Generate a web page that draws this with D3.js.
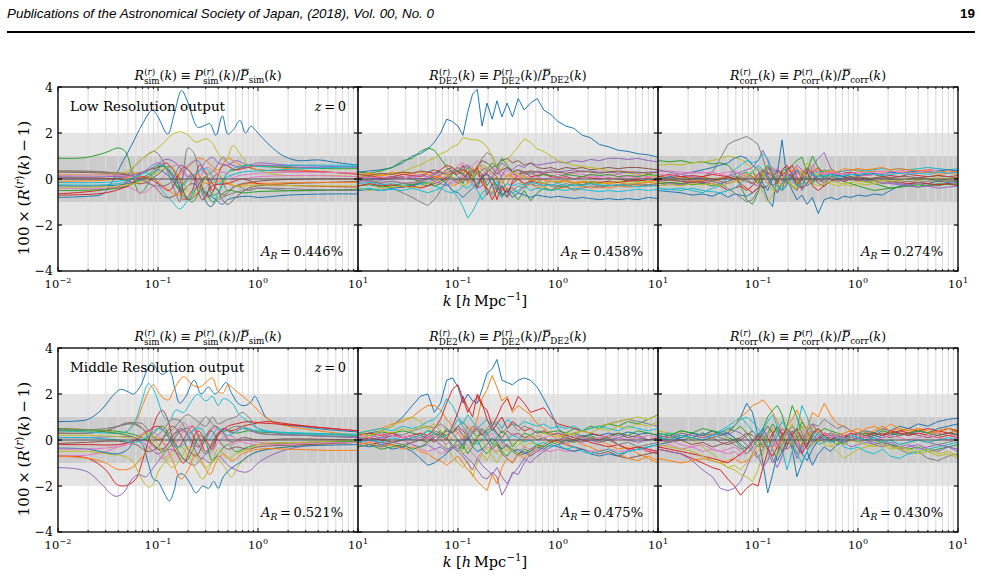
<!DOCTYPE html>
<html><head><meta charset="utf-8">
<script src="https://cdn.jsdelivr.net/npm/d3@7"></script>
<style>body{margin:0;background:#fff}svg{display:block}</style>
</head><body><svg id="c" width="981" height="580"></svg>
<script>
// ---------------- DATA ----------------
const headerText = "Publications of the Astronomical Society of Japan, (2018), Vol. 00, No. 0";
const pageNumber = "19";
const rowLabels = ["Low Resolution output", "Middle Resolution output"];
const titleSubs = ["sim", "DE2", "corr"];
const arValues = ["0.446", "0.458", "0.274", "0.521", "0.475", "0.430"];
const yTicks = [-4, -2, 0, 2, 4];
const xTickExps = [-2, -1, 0, 1];
const kN = [0.01,0.013,0.017,0.022,0.028,0.035,0.042,0.05,0.058,0.067,0.077,0.088,0.1,0.112,0.125,0.14,0.156,0.174,0.195,0.22,0.245,0.275,0.31,0.35,0.4,0.46,0.53,0.62,0.72,0.85,1.0,1.2,1.45,1.75,2.1,2.6,3.2,4.0,5.0,6.3,8.0,10];

// Low resolution, sim (k, value) pairs
const lowSim = [
 [[0.01,-0.8],[0.02,-0.75],[0.028,-0.65],[0.035,-0.1],[0.045,0.8],[0.055,1.5],[0.07,2.4],[0.088,3.0],[0.1,2.7],[0.125,1.95],[0.145,2.8],[0.172,3.85],[0.2,3.3],[0.25,2.25],[0.3,2.35],[0.33,2.4],[0.38,1.9],[0.44,2.75],[0.5,1.95],[0.58,2.2],[0.66,2.55],[0.75,2.0],[0.85,2.3],[0.95,2.1],[1.1,1.8],[1.4,1.35],[1.8,1.0],[2.5,0.8],[4,0.83],[6,0.72],[10,0.6]],
 [[0.01,0.35],[0.03,0.3],[0.05,0.25],[0.08,0.35],[0.1,0.6],[0.12,0.5],[0.15,0.1],[0.2,0.5],[0.25,0.9],[0.3,0.8],[0.4,0.4],[0.5,0.9],[0.6,0.7],[0.8,0.5],[1,0.6],[2,0.45],[5,0.3],[10,0.25]],
 [[0.01,0.9],[0.015,0.9],[0.02,0.95],[0.03,1.15],[0.04,1.35],[0.047,1.2],[0.055,0.3],[0.065,-0.6],[0.075,-0.4],[0.09,0.2],[0.11,0.55],[0.13,0.3],[0.16,-0.4],[0.2,-0.9],[0.25,-0.3],[0.3,0.1],[0.35,-0.7],[0.4,-0.6],[0.5,0.3],[0.6,0.4],[0.8,0.6],[1,0.55],[2,0.5],[5,0.45],[10,0.45]],
 [[0.01,-0.65],[0.02,-0.55],[0.03,-0.45],[0.04,-0.35],[0.06,0.1],[0.08,0.4],[0.1,0.5],[0.12,0.7],[0.15,0.2],[0.18,-0.9],[0.22,-0.5],[0.26,0.6],[0.3,0.3],[0.35,-0.5],[0.45,0.6],[0.6,0.4],[0.8,0.5],[1,0.4],[2,0.35],[5,0.3],[10,0.2]],
 [[0.01,0.1],[0.03,0.1],[0.06,0.2],[0.09,0.5],[0.12,0.85],[0.15,0.7],[0.2,0.1],[0.25,0.3],[0.3,0.75],[0.35,0.95],[0.4,0.7],[0.5,0.6],[0.6,0.8],[0.8,0.6],[1,0.7],[2,0.6],[5,0.55],[10,0.5]],
 [[0.01,0.3],[0.03,0.25],[0.06,0.1],[0.09,-0.3],[0.12,-0.8],[0.15,-0.7],[0.18,-0.2],[0.22,0.2],[0.26,-0.2],[0.32,-0.8],[0.38,-0.4],[0.44,-0.9],[0.5,-1.1],[0.6,-0.8],[0.8,-0.4],[1,-0.3],[2,-0.2],[5,-0.15],[10,-0.1]],
 [[0.01,-0.4],[0.03,-0.4],[0.05,-0.35],[0.07,-0.6],[0.09,-0.3],[0.12,0.2],[0.15,0.6],[0.2,0.4],[0.25,-0.1],[0.3,0.5],[0.4,0.2],[0.5,-0.2],[0.6,0.1],[0.8,0.2],[1,0.25],[3,0.3],[10,0.25]],
 [[0.01,0.35],[0.03,0.3],[0.045,0.1],[0.06,0.6],[0.075,1.0],[0.09,1.2],[0.1,1.1],[0.12,0.5],[0.15,-0.6],[0.165,-1.0],[0.18,0.3],[0.2,1.35],[0.23,1.1],[0.26,0.1],[0.3,-0.7],[0.35,0.0],[0.4,0.2],[0.5,-0.5],[0.6,-0.3],[0.8,-0.5],[1,-0.4],[2,-0.5],[5,-0.5],[10,-0.5]],
 [[0.01,0.2],[0.03,0.2],[0.05,0.35],[0.07,0.9],[0.09,1.2],[0.11,1.5],[0.14,1.95],[0.17,2.05],[0.2,1.9],[0.24,1.6],[0.3,1.75],[0.35,1.55],[0.4,1.1],[0.48,0.8],[0.56,1.45],[0.66,1.1],[0.8,0.6],[1,0.4],[1.5,0.2],[2,0.15],[5,0.15],[10,0.1]],
 [[0.01,-0.25],[0.03,-0.25],[0.05,-0.1],[0.07,0.3],[0.09,0.1],[0.11,-0.5],[0.14,-1.0],[0.165,-1.3],[0.2,-0.9],[0.25,-0.3],[0.3,-1.0],[0.34,-1.2],[0.4,-0.6],[0.5,0.3],[0.6,0.5],[0.8,0.6],[1,0.55],[2,0.6],[5,0.6],[10,0.6]],
 [[0.01,-0.3],[0.03,-0.3],[0.05,-0.2],[0.08,0.1],[0.1,0.4],[0.13,0.1],[0.17,-0.5],[0.22,-0.2],[0.3,-0.6],[0.38,-0.9],[0.44,-1.1],[0.5,-0.9],[0.6,-0.8],[0.8,-0.75],[1,-0.8],[2,-0.7],[5,-0.65],[10,-0.65]],
 [[0.01,-0.1],[0.03,-0.05],[0.06,0.1],[0.09,0.0],[0.12,-0.4],[0.16,-0.7],[0.2,-0.3],[0.25,0.2],[0.3,-0.2],[0.4,-0.1],[0.6,-0.3],[0.8,-0.2],[1,-0.2],[3,-0.15],[10,-0.15]],
 [[0.01,-0.5],[0.03,-0.45],[0.05,-0.3],[0.08,0.2],[0.11,0.6],[0.14,0.2],[0.18,-0.6],[0.22,-1.0],[0.28,-0.4],[0.35,-1.0],[0.4,-0.8],[0.5,-0.5],[0.7,-0.6],[1,-0.55],[3,-0.5],[10,-0.45]],
 [[0.01,-0.7],[0.03,-0.6],[0.05,-0.3],[0.07,0.1],[0.1,-0.2],[0.13,-0.5],[0.18,0.5],[0.22,0.2],[0.28,-0.9],[0.35,-0.3],[0.5,-0.2],[0.7,0.0],[1,-0.2],[3,-0.3],[10,-0.35]],
 [[0.01,0.0],[0.04,0.05],[0.07,0.3],[0.1,0.7],[0.13,0.3],[0.16,-0.2],[0.2,0.6],[0.25,0.8],[0.3,0.2],[0.35,0.3],[0.45,0.95],[0.5,0.7],[0.7,0.5],[1,0.6],[3,0.5],[10,0.55]],
 [[0.01,0.05],[0.04,0.0],[0.07,-0.2],[0.1,0.2],[0.13,0.55],[0.16,0.1],[0.2,-0.9],[0.25,-0.6],[0.3,0.1],[0.38,-0.4],[0.45,-0.7],[0.6,-0.3],[1,-0.1],[3,0.0],[10,0.0]],
 [[0.01,0.15],[0.04,0.15],[0.07,0.0],[0.1,-0.4],[0.13,-0.2],[0.17,0.3],[0.22,0.0],[0.28,-0.5],[0.35,0.1],[0.45,0.3],[0.6,0.0],[1,0.1],[3,0.15],[10,0.1]],
 [[0.01,0.3],[0.05,0.2],[0.08,-0.2],[0.1,-0.3],[0.13,-0.2],[0.17,0.6],[0.2,0.4],[0.28,-0.6],[0.33,-1.2],[0.4,-0.9],[0.5,-0.7],[0.7,-0.5],[1,-0.4],[3,-0.45],[10,-0.5]],
 [[0.01,-0.35],[0.04,-0.3],[0.07,-0.1],[0.1,0.3],[0.13,0.5],[0.17,0.0],[0.22,-0.7],[0.28,-0.3],[0.35,0.4],[0.45,0.0],[0.6,-0.3],[1,-0.25],[3,-0.3],[10,-0.3]],
 [[0.01,-0.15],[0.04,-0.1],[0.07,0.2],[0.1,0.6],[0.13,0.4],[0.17,-0.3],[0.22,0.1],[0.3,0.45],[0.4,-0.2],[0.5,0.1],[0.7,0.3],[1,0.35],[3,0.45],[10,0.55]]
];

// Low resolution, DE2 (values on kN)
const lowDE2 = [
 [0.3,0.35,0.4,0.5,0.7,1.0, 1.1,1.3,1.6,2.0,2.6,2.5, 2.3,1.9,2.9,3.7,3.9,2.3, 3.3,2.6,3.4,2.7,3.3,2.7, 3.5,3.0,3.3,3.5,3.0,2.8, 2.5,2.3,2.2,1.9,1.8,1.5, 1.4,1.25,1.2,1.1,1.05,0.95],
 [0.1,0.2,0.15,0.3,0.2,0.25, 0.1,0.2,0.05,0.15,0.3,0.35, 0.5,0.3,-0.2,0.1,0.6,0.4, 0.2,-0.3,0.1,-0.5,-0.2,0.3, 0.0,-0.3,-0.2,-0.4,-0.3,-0.5, -0.4,-0.35,-0.45,-0.3,-0.4,-0.35, -0.4,-0.3,-0.35,-0.3,-0.25,-0.3],
 [0.3,0.25,0.35,0.5,0.8,0.9, 1.2,1.35,1.25,0.9,0.5,0.3, 0.1,-0.2,0.3,-0.1,0.4,0.2, -0.3,0.1,-0.5,-0.8,-0.4,-0.6, -0.9,-0.5,-0.95,-0.6,-0.4,-0.5, -0.3,-0.35,-0.2,-0.25,-0.15,-0.2, -0.1,-0.15,-0.05,-0.1,0.0,-0.05],
 [0.1,0.15,0.05,0.1,0.2,0.15, 0.1,0.3,0.25,0.4,0.6,0.5, 0.3,0.6,0.2,0.0,-0.4,0.2, -0.7,-0.2,-0.9,-0.3,-0.8,-0.1, 0.2,0.3,0.1,0.15,0.2,0.1, 0.05,0.1,0.0,0.1,0.05,0.0, 0.05,0.0,-0.05,0.0,0.05,0.0],
 [-0.1,0.0,-0.05,0.1,0.05,0.1, 0.2,0.1,0.25,0.3,0.2,0.4, 0.3,0.5,0.6,0.4,0.2,0.0, 0.3,-0.3,-0.5,0.2,0.5,0.4, 0.6,0.5,0.7,0.6,0.65,0.7, 0.75,0.7,0.8,0.75,0.85,0.8, 0.9,0.9,0.85,0.9,0.8,0.75],
 [0.05,0.1,0.0,0.05,0.1,0.0, -0.1,0.0,0.1,0.2,0.4,0.5, 0.3,0.2,-0.1,0.3,0.5,0.8, 0.7,0.5,0.6,0.8,0.9,0.7, 0.8,0.6,0.7,0.5,0.45,0.5, 0.4,0.5,0.45,0.5,0.4,0.45, 0.5,0.45,0.5,0.5,0.45,0.4],
 [-0.15,-0.1,-0.2,-0.1,-0.15,-0.2, -0.1,-0.15,0.0,0.1,0.05,0.2, 0.6,0.7,0.5,0.6,0.8,0.5, 0.4,0.2,0.5,0.3,0.1,0.2, 0.3,0.25,0.3,0.2,0.25,0.15, 0.2,0.15,0.25,0.2,0.15,0.1, 0.15,0.2,0.1,0.15,0.1,0.1],
 [0.0,-0.1,-0.2,-0.4,-0.6,-0.8, -1.0,-1.15,-0.9,-0.5,-0.1,0.3, 0.5,0.4,0.6,0.3,0.5,0.9, 1.15,1.0,0.5,0.0,-0.5,-0.4, -0.6,-0.3,-0.1,0.0,-0.2,-0.3, -0.4,-0.3,-0.5,-0.4,-0.3,-0.35, -0.3,-0.25,-0.3,-0.2,-0.25,-0.2],
 [0.1,0.15,0.2,0.25,0.3,0.5, 0.6,0.8,0.9,1.1,1.2,1.4, 1.5,1.8,1.75,1.7,1.7,1.6, 1.4,1.0,0.5,0.4,0.8,1.1, 1.4,1.75,1.6,1.3,1.2,1.0, 0.8,0.7,0.6,0.55,0.5,0.45, 0.35,0.3,0.25,0.2,0.15,0.1],
 [-0.2,-0.15,-0.25,-0.2,-0.3,-0.25, -0.2,-0.1,-0.3,-0.4,-0.2,-0.5, -0.8,-1.2,-1.7,-1.4,-1.0,-0.6, -0.4,-0.7,-0.2,-0.8,-0.5,-0.6, -0.5,-0.3,-0.5,-0.4,-0.45,-0.5, -0.45,-0.5,-0.4,-0.45,-0.5,-0.55, -0.5,-0.55,-0.5,-0.45,-0.5,-0.45],
 [-0.5,-0.45,-0.5,-0.4,-0.35,-0.3, -0.2,-0.3,-0.1,0.0,-0.2,-0.5, -0.6,-0.8,-0.6,-0.4,-0.2,0.1, 0.2,0.0,-0.3,-0.7,-0.5,-0.8, -0.6,-0.7,-0.8,-0.7,-0.75,-0.8, -0.75,-0.8,-0.85,-0.8,-0.85,-0.9, -0.85,-0.9,-0.85,-0.9,-0.8,-0.85],
 [0.2,0.25,0.15,0.2,0.3,0.25, 0.3,0.2,0.1,0.05,-0.1,-0.3, -0.2,0.1,0.3,0.5,0.2,-0.1, -0.4,-0.6,-0.3,-0.1,0.2,0.1, 0.0,0.1,-0.1,0.0,-0.05,-0.1, -0.1,-0.05,-0.15,-0.1,-0.2,-0.15, -0.2,-0.15,-0.25,-0.2,-0.15,-0.2],
 [-0.3,-0.25,-0.35,-0.3,-0.2,-0.25, -0.15,-0.2,-0.3,-0.2,0.0,0.2, 0.4,0.2,0.5,0.1,-0.3,0.0, 0.4,0.7,0.5,0.9,0.6,0.3, 0.4,0.2,0.3,0.1,0.2,0.15, 0.1,0.2,0.15,0.1,0.2,0.15, 0.2,0.1,0.15,0.1,0.2,0.15],
 [-0.3,-0.2,-0.3,-0.25,-0.35,-0.3, -0.4,-0.3,-0.2,-0.1,0.1,0.3, 0.2,0.4,0.3,0.1,0.5,-0.2, -0.4,-0.9,-0.5,-0.3,-0.6,-0.2, 0.0,-0.2,-0.1,-0.15,-0.2,-0.1, -0.15,-0.1,-0.2,-0.15,-0.1,-0.15, -0.1,-0.15,-0.1,-0.05,-0.1,-0.05],
 [0.0,0.05,-0.05,0.0,0.05,0.1, 0.0,0.05,-0.1,-0.2,-0.3,-0.1, 0.0,0.2,0.1,-0.2,-0.4,-0.3, -0.1,0.1,0.4,0.7,0.5,0.3, 0.1,0.3,0.2,0.35,0.3,0.4, 0.3,0.35,0.4,0.3,0.35,0.3, 0.3,0.25,0.3,0.25,0.3,0.3],
 [0.2,0.15,0.25,0.2,0.3,0.25, 0.35,0.3,0.4,0.3,0.2,0.1, -0.1,0.0,0.2,0.4,0.3,0.1, 0.3,0.5,0.2,0.4,0.5,0.3, 0.4,0.3,0.35,0.3,0.25,0.3, 0.3,0.25,0.3,0.35,0.3,0.25, 0.3,0.35,0.3,0.3,0.25,0.3],
 [0.1,0.05,0.1,0.0,0.05,0.1, 0.15,0.05,0.2,0.1,0.0,-0.2, -0.1,0.1,0.0,-0.3,-0.1,0.2, 0.3,0.0,0.3,0.1,0.4,0.2, 0.1,0.15,0.05,0.1,0.0,0.05, 0.1,0.05,0.0,0.05,0.1,0.05, 0.0,0.05,0.1,0.05,0.0,0.05],
 [-0.1,-0.05,-0.15,-0.1,-0.2,-0.15, -0.1,0.0,0.2,0.3,0.2,0.0, -0.2,-0.1,0.1,0.3,0.2,0.4, 0.5,0.3,0.1,-0.6,-0.8,-0.5, -0.3,-0.4,-0.2,-0.3,-0.2,-0.25, -0.3,-0.2,-0.3,-0.25,-0.2,-0.3, -0.25,-0.3,-0.2,-0.25,-0.3,-0.25],
 [-0.4,-0.5,-0.4,-0.35,-0.3,-0.4, -0.3,-0.2,-0.1,0.0,0.2,0.1, -0.1,-0.3,-0.2,0.1,0.4,0.6, 0.5,0.2,0.0,-0.2,0.1,0.3, 0.2,0.1,0.0,-0.1,-0.2,-0.1, -0.15,-0.1,-0.2,-0.15,-0.1,-0.2, -0.15,-0.1,-0.2,-0.15,-0.1,-0.15],
 [-0.45,-0.4,-0.5,-0.45,-0.5,-0.4, -0.5,-0.6,-0.5,-0.4,-0.55,-0.6, -0.5,-0.3,-0.4,-0.2,-0.5,-0.9, -0.6,-0.3,-0.1,-0.4,-0.2,-0.3, -0.2,-0.25,-0.15,-0.2,-0.3,-0.25, -0.2,-0.3,-0.25,-0.3,-0.2,-0.25, -0.3,-0.25,-0.3,-0.35,-0.3,-0.3]
];

// Low resolution, corr (values on kN)
const lowCorr = [
 [-0.5,-0.55,-0.6,-0.7,-0.65,-0.75, -0.6,-0.8,-0.65,-0.7,-0.75,-0.6, -0.4,-0.3,-0.9,-1.2,0.2,1.7, 0.0,-0.5,-0.9,-0.7,-1.1,-0.8, -1.5,-0.9,-0.8,-0.9,-0.75,-0.8, -0.7,-0.75,-0.65,-0.7,-0.5,-0.3, -0.2,-0.15,-0.2,-0.1,-0.15,-0.1],
 [0.1,0.15,0.1,0.05,0.1,0.0, 0.05,0.1,0.0,-0.1,0.0,0.1, 0.2,0.3,0.2,0.4,0.3,0.2, 0.3,0.4,0.2,0.3,0.35,0.3, 0.4,0.35,0.3,0.3,0.35,0.4, 0.35,0.3,0.35,0.3,0.35,0.3, 0.3,0.25,0.3,0.2,0.25,0.2],
 [0.8,0.75,0.8,0.7,0.75,0.65, 0.7,0.6,0.3,-0.3,-0.9,-1.1, -0.6,0.2,0.5,0.2,-0.3,-0.5, 0.3,0.6,0.8,0.95,0.3,-0.2, 0.1,0.4,0.2,0.3,0.2,0.1, 0.0,-0.1,-0.2,-0.3,-0.4,-0.35, -0.3,-0.35,-0.25,-0.3,-0.2,-0.25],
 [-0.2,-0.15,-0.2,-0.1,-0.15,-0.2, -0.3,-0.5,-0.4,-0.3,-0.5,-0.3, 0.0,0.4,0.2,-0.3,-0.6,-0.2, 0.4,0.6,0.1,-0.4,-0.2,0.3, 0.5,0.2,0.3,0.2,0.25,0.3, 0.2,0.15,0.2,0.1,0.15,0.1, 0.2,0.15,0.1,0.15,0.1,0.05],
 [-0.3,-0.2,-0.25,-0.15,-0.2,-0.1, 0.0,0.1,0.2,0.3,0.4,0.5, 0.8,1.25,0.8,0.2,-0.3,-0.5, -0.2,0.3,0.6,0.4,0.0,0.5, 0.9,1.15,0.5,0.2,0.1,0.0, -0.1,0.0,-0.1,-0.2,-0.15,-0.2, -0.25,-0.2,-0.3,-0.25,-0.2,-0.15],
 [0.1,0.05,0.1,0.0,0.05,0.0, -0.1,-0.2,-0.1,0.0,0.1,0.3, 0.0,-0.4,-0.3,0.1,0.4,0.2, -0.1,-0.3,-0.5,0.0,0.4,0.3, 0.0,-0.2,0.1,0.2,0.1,0.05, 0.1,0.05,0.0,0.05,0.0,-0.05, 0.0,-0.05,0.0,-0.1,-0.05,-0.1],
 [0.3,0.35,0.3,0.25,0.3,0.2, 0.25,0.3,0.35,0.2,0.1,0.0, 0.2,0.1,-0.2,0.3,0.5,0.2, 0.0,-0.2,0.2,0.4,0.3,0.6, 0.3,0.2,0.25,0.3,0.2,0.25, 0.3,0.25,0.3,0.35,0.3,0.35, 0.4,0.35,0.4,0.45,0.4,0.35],
 [-0.05,0.0,-0.1,0.0,0.1,0.3, 0.9,1.5,1.65,1.75,1.85,1.7, 1.5,0.9,0.2,-0.3,-0.6,-0.2, 0.2,0.1,-0.1,0.2,0.1,0.0, -0.1,0.0,0.1,0.05,0.0,-0.05, 0.0,-0.05,0.0,0.05,0.0,-0.05, 0.0,0.05,0.0,-0.05,0.0,0.05],
 [0.6,0.65,0.6,0.7,0.75,0.8, 0.9,1.0,0.95,0.85,0.7,0.4, 0.0,-0.6,-1.0,-0.7,-0.2,0.3, 0.1,-0.3,-0.4,0.2,0.7,0.5, 0.2,0.0,-0.2,-0.3,-0.25,-0.3, -0.2,-0.25,-0.2,-0.15,-0.1,-0.15, -0.1,-0.15,-0.1,-0.05,-0.1,-0.05],
 [-0.4,-0.45,-0.4,-0.5,-0.6,-0.4, -0.3,0.1,0.4,0.6,0.8,0.7, 0.8,1.1,0.9,0.3,-0.2,-0.5, -0.3,0.2,0.4,0.1,0.3,0.2, 0.3,0.35,0.4,0.3,0.35,0.4, 0.4,0.35,0.4,0.45,0.4,0.45, 0.4,0.45,0.5,0.45,0.4,0.45],
 [0.0,0.1,0.2,0.3,0.4,0.5, 0.6,0.7,0.9,1.0,0.9,0.6, 0.4,-0.2,-0.5,0.0,0.4,0.2, -0.2,0.1,0.4,0.0,-0.3,-0.1, 0.2,0.1,0.2,0.15,0.1,0.2, 0.15,0.2,0.25,0.2,0.3,0.25, 0.3,0.35,0.3,0.35,0.4,0.35],
 [0.0,-0.05,0.0,-0.1,-0.05,-0.1, 0.0,0.05,0.0,0.1,0.2,0.1, -0.1,0.2,0.5,0.3,0.0,-0.3, -0.1,0.3,0.5,0.2,-0.2,0.0, 0.2,0.3,0.4,0.3,0.45,0.4, 0.45,0.4,0.45,0.5,0.4,0.45, 0.4,0.35,0.4,0.3,0.35,0.3],
 [-0.2,-0.15,-0.2,-0.25,-0.2,-0.3, -0.2,-0.1,0.0,0.2,0.3,0.1, -0.2,0.3,0.6,0.2,-0.1,0.3, 0.5,0.2,-0.3,-0.4,0.3,1.0, 0.5,0.0,0.2,0.0,-0.1,-0.2, -0.3,-0.4,-0.5,-0.45,-0.4,-0.35, -0.3,-0.25,-0.3,-0.2,-0.25,-0.2],
 [0.1,0.2,0.1,0.15,0.1,0.2, 0.15,0.1,0.0,-0.2,-0.4,-0.6, -0.4,0.0,0.3,0.1,-0.2,0.4, 0.6,0.2,-0.2,0.0,0.3,-0.3, -0.5,-0.3,-0.1,0.0,-0.1,0.0, -0.05,0.0,-0.1,-0.05,-0.1,-0.15, -0.2,-0.15,-0.2,-0.25,-0.2,-0.3],
 [0.4,0.3,0.2,0.1,0.0,-0.1, -0.2,-0.1,0.0,0.1,0.0,-0.2, -0.3,0.0,0.4,0.5,0.2,-0.1, 0.0,0.3,0.0,-0.5,-0.2,0.2, 0.0,-0.1,0.0,-0.1,-0.05,0.0, 0.0,-0.05,-0.1,-0.15,-0.2,-0.25, -0.3,-0.35,-0.3,-0.4,-0.35,-0.3],
 [-0.1,-0.05,-0.1,-0.15,-0.1,-0.05, 0.0,0.05,0.1,0.0,-0.1,-0.2, 0.2,0.4,0.0,-0.3,-0.1,0.2, 0.3,0.1,-0.3,0.2,0.5,0.2, -0.2,-0.3,-0.1,0.0,0.05,0.1, 0.05,0.0,0.05,0.1,0.05,0.1, 0.1,0.05,0.1,0.15,0.1,0.15],
 [0.2,0.15,0.2,0.3,0.25,0.3, 0.2,0.15,0.3,0.2,0.1,0.3, 0.5,0.3,0.1,0.4,0.2,0.0, 0.3,0.5,0.3,0.1,0.2,0.4, 0.3,0.25,0.3,0.2,0.25,0.2, 0.2,0.15,0.2,0.25,0.2,0.3, 0.25,0.3,0.35,0.3,0.25,0.3],
 [0.0,0.05,0.0,-0.05,0.0,-0.1, -0.2,-0.4,-0.6,-0.8,-1.0,-0.9, -0.5,0.0,0.3,0.1,-0.2,0.0, 0.2,0.0,-0.2,0.1,0.0,-0.1, 0.0,0.1,0.0,-0.05,0.0,0.05, 0.0,-0.05,-0.1,-0.05,-0.1,-0.15, -0.1,-0.15,-0.1,-0.05,-0.1,-0.05],
 [-0.3,-0.25,-0.3,-0.2,-0.25,-0.2, -0.3,-0.2,-0.1,0.0,0.1,0.3, 0.5,0.2,-0.2,-0.5,-0.3,0.1, 0.0,-0.4,-0.2,0.3,0.1,-0.2, -0.3,-0.2,-0.1,-0.15,-0.2,-0.15, -0.1,-0.15,-0.1,-0.05,-0.1,-0.05, 0.0,-0.05,0.0,0.05,0.0,0.05],
 [-0.5,-0.45,-0.5,-0.4,-0.5,-0.55, -0.6,-0.5,-0.4,-0.2,0.0,0.3, 0.6,0.4,0.1,-0.3,-0.5,-0.2, 0.1,-0.1,-0.3,-0.2,0.0,0.2, 0.1,0.15,0.2,0.1,0.15,0.2, 0.2,0.25,0.2,0.15,0.2,0.25, 0.2,0.25,0.2,0.3,0.25,0.3]
];

// Middle resolution, sim (k, value) pairs
const midSim = [
 [[0.01,0.8],[0.015,0.82],[0.02,0.9],[0.027,1.3],[0.035,1.9],[0.042,2.2],[0.05,2.1],[0.057,2.0],[0.066,2.3],[0.077,3.0],[0.087,3.35],[0.1,3.0],[0.11,2.85],[0.13,3.0],[0.148,2.2],[0.165,1.6],[0.19,1.9],[0.23,2.6],[0.27,2.0],[0.32,2.3],[0.37,2.0],[0.42,2.2],[0.48,2.5],[0.55,2.0],[0.65,1.55],[0.75,1.5],[0.85,1.65],[0.93,1.9],[1.05,1.5],[1.2,1.0],[1.6,0.7],[2.5,0.6],[5,0.45],[10,0.35]],
 [[0.01,0.5],[0.02,0.45],[0.03,0.4],[0.045,0.3],[0.06,0.8],[0.07,1.5],[0.08,2.1],[0.09,2.4],[0.1,2.1],[0.115,1.8],[0.128,1.75],[0.145,2.2],[0.18,2.75],[0.22,2.4],[0.26,2.3],[0.3,2.5],[0.35,2.7],[0.4,2.1],[0.45,2.05],[0.5,2.4],[0.58,2.2],[0.66,2.0],[0.75,1.8],[0.9,1.5],[1.1,1.1],[1.4,0.8],[2,0.6],[4,0.4],[10,0.2]],
 [[0.01,0.5],[0.02,0.45],[0.035,0.4],[0.05,0.3],[0.07,0.1],[0.09,-0.2],[0.11,-0.5],[0.13,-0.3],[0.16,0.3],[0.2,0.5],[0.25,-0.2],[0.3,-0.6],[0.35,-0.3],[0.4,0.3],[0.5,0.4],[0.6,0.3],[0.8,0.4],[1,0.35],[2,0.3],[5,0.25],[10,0.2]],
 [[0.01,-0.7],[0.02,-0.8],[0.03,-1.3],[0.038,-1.9],[0.043,-2.0],[0.05,-1.95],[0.06,-1.7],[0.07,-0.9],[0.085,0.3],[0.1,1.1],[0.11,1.3],[0.125,0.9],[0.14,0.1],[0.16,-0.3],[0.19,0.2],[0.22,0.6],[0.26,0.1],[0.3,-0.5],[0.36,-0.1],[0.45,0.5],[0.55,0.4],[0.7,0.6],[0.9,0.7],[1.2,0.8],[2,0.7],[4,0.55],[10,0.4]],
 [[0.01,-1.2],[0.015,-1.25],[0.02,-1.4],[0.027,-1.9],[0.033,-2.3],[0.038,-2.45],[0.045,-2.3],[0.055,-1.7],[0.065,-1.5],[0.075,-1.6],[0.09,-1.2],[0.11,-0.7],[0.13,-0.4],[0.16,-0.6],[0.19,-0.9],[0.23,-1.1],[0.28,-0.8],[0.33,-1.0],[0.4,-0.7],[0.5,-1.1],[0.6,-1.3],[0.75,-1.4],[0.85,-1.3],[1,-1.0],[1.3,-0.7],[2,-0.4],[4,-0.2],[10,-0.1]],
 [[0.01,0.3],[0.02,0.3],[0.03,0.4],[0.04,0.6],[0.05,0.75],[0.06,0.7],[0.07,0.5],[0.085,-0.1],[0.1,-0.4],[0.12,-0.3],[0.14,0.2],[0.17,0.5],[0.2,0.2],[0.25,-0.3],[0.3,0.2],[0.37,0.6],[0.45,0.3],[0.55,-0.1],[0.7,0.1],[1,0.0],[2,0.05],[10,0.0]],
 [[0.01,-0.7],[0.02,-0.65],[0.03,-0.5],[0.04,-0.3],[0.05,-0.1],[0.065,0.2],[0.08,0.4],[0.1,0.2],[0.12,-0.2],[0.15,0.2],[0.18,0.75],[0.21,0.4],[0.25,-0.3],[0.3,0.0],[0.36,0.5],[0.45,0.2],[0.55,-0.2],[0.7,0.0],[1,-0.1],[2,-0.15],[10,-0.1]],
 [[0.01,0.3],[0.02,0.3],[0.03,0.4],[0.04,0.6],[0.05,0.7],[0.06,0.75],[0.07,0.7],[0.085,0.3],[0.1,0.0],[0.12,0.2],[0.15,0.6],[0.18,1.0],[0.2,1.1],[0.25,0.8],[0.3,0.6],[0.35,1.0],[0.4,0.7],[0.5,0.9],[0.6,1.0],[0.7,1.2],[0.8,1.0],[1,0.5],[1.5,0.3],[3,0.2],[10,0.1]],
 [[0.01,-0.5],[0.02,-0.5],[0.03,-0.6],[0.045,-0.7],[0.055,-0.9],[0.065,-1.5],[0.075,-1.95],[0.082,-2.05],[0.09,-1.9],[0.1,-1.4],[0.12,-0.9],[0.14,-0.6],[0.17,-0.3],[0.2,-0.7],[0.24,-1.3],[0.28,-1.7],[0.32,-1.3],[0.38,-0.8],[0.45,-1.1],[0.54,-1.6],[0.62,-1.2],[0.75,-0.8],[1,-0.5],[2,-0.3],[10,-0.1]],
 [[0.01,0.4],[0.02,0.35],[0.03,0.3],[0.04,0.3],[0.05,0.4],[0.06,0.9],[0.07,1.8],[0.08,2.45],[0.09,2.2],[0.1,1.7],[0.115,1.0],[0.13,0.8],[0.15,1.3],[0.18,1.2],[0.21,1.6],[0.25,2.0],[0.3,1.7],[0.35,1.9],[0.4,1.5],[0.45,1.8],[0.55,1.6],[0.65,1.1],[0.8,0.8],[1,0.5],[2,0.3],[10,0.2]],
 [[0.01,-0.35],[0.02,-0.4],[0.03,-0.55],[0.04,-0.6],[0.05,-0.4],[0.06,0.0],[0.07,-0.2],[0.08,-1.0],[0.09,-1.7],[0.1,-1.8],[0.115,-2.3],[0.13,-2.65],[0.145,-2.2],[0.16,-1.5],[0.18,-1.5],[0.21,-1.9],[0.24,-2.3],[0.28,-2.0],[0.32,-2.1],[0.36,-1.8],[0.4,-2.1],[0.45,-1.6],[0.55,-1.2],[0.65,-1.0],[0.8,-0.7],[1,-0.5],[2,-0.3],[10,-0.2]],
 [[0.01,-0.7],[0.02,-0.8],[0.03,-1.0],[0.038,-1.25],[0.045,-1.3],[0.055,-1.2],[0.065,-0.9],[0.08,-0.4],[0.1,0.1],[0.12,-0.3],[0.14,-0.9],[0.17,-1.7],[0.2,-1.3],[0.24,-0.6],[0.28,-1.0],[0.33,-1.5],[0.38,-1.0],[0.45,-0.6],[0.55,-0.9],[0.7,-0.6],[1,-0.4],[2,-0.4],[5,-0.45],[10,-0.45]],
 [[0.01,0.4],[0.02,0.4],[0.03,0.35],[0.05,0.2],[0.07,0.0],[0.09,0.3],[0.11,0.6],[0.13,0.2],[0.16,-0.5],[0.19,-0.9],[0.22,-0.5],[0.26,0.2],[0.3,-0.1],[0.35,-0.9],[0.4,-0.6],[0.5,-0.2],[0.6,-0.5],[0.8,-0.3],[1,-0.2],[3,-0.1],[10,-0.05]],
 [[0.01,-0.2],[0.02,-0.2],[0.04,-0.2],[0.06,0.0],[0.08,0.4],[0.1,0.6],[0.12,0.3],[0.15,-0.5],[0.18,-1.0],[0.21,-0.4],[0.25,0.4],[0.3,0.0],[0.35,-0.4],[0.4,0.2],[0.5,0.6],[0.6,0.7],[0.8,0.8],[1,0.75],[1.5,0.7],[3,0.6],[10,0.4]],
 [[0.01,0.1],[0.02,0.1],[0.04,0.15],[0.06,0.1],[0.08,-0.3],[0.1,-0.6],[0.12,-0.3],[0.15,0.3],[0.18,0.4],[0.22,-0.2],[0.27,-0.8],[0.32,-0.4],[0.38,0.2],[0.45,0.5],[0.55,0.3],[0.7,0.5],[1,0.3],[3,0.2],[10,0.1]],
 [[0.01,-0.15],[0.02,-0.1],[0.04,-0.05],[0.06,-0.2],[0.08,-0.5],[0.1,-0.3],[0.12,0.3],[0.14,0.6],[0.17,0.2],[0.2,-0.4],[0.24,-0.7],[0.28,-0.2],[0.34,0.4],[0.4,0.0],[0.5,-0.4],[0.6,-0.3],[0.8,-0.4],[1,-0.3],[3,-0.2],[10,-0.1]],
 [[0.01,-0.4],[0.03,-0.35],[0.05,-0.2],[0.07,0.0],[0.09,-0.3],[0.11,-0.8],[0.13,-0.6],[0.16,0.0],[0.2,0.6],[0.24,0.3],[0.28,-0.4],[0.33,-0.6],[0.4,-0.1],[0.5,0.2],[0.7,-0.1],[1,-0.2],[3,-0.15],[10,-0.1]],
 [[0.01,0.45],[0.02,0.45],[0.03,0.5],[0.04,0.6],[0.05,0.7],[0.06,0.65],[0.075,0.4],[0.09,0.1],[0.11,0.4],[0.14,0.9],[0.17,0.8],[0.2,0.3],[0.25,0.6],[0.3,1.0],[0.35,0.7],[0.45,0.4],[0.6,0.6],[0.8,0.5],[1,0.3],[3,0.2],[10,0.15]],
 [[0.01,0.2],[0.02,0.2],[0.04,0.15],[0.06,0.1],[0.08,0.3],[0.1,-0.2],[0.12,-0.9],[0.14,-1.2],[0.17,-0.8],[0.2,-0.3],[0.25,-0.8],[0.3,-1.2],[0.35,-0.9],[0.4,-0.4],[0.5,-0.8],[0.6,-0.6],[0.8,-0.4],[1,-0.2],[3,-0.1],[10,0.0]],
 [[0.01,0.1],[0.02,0.1],[0.04,0.0],[0.06,-0.1],[0.08,0.2],[0.1,0.5],[0.12,0.3],[0.15,-0.3],[0.18,-0.2],[0.22,0.4],[0.27,0.5],[0.32,0.0],[0.4,0.5],[0.5,0.2],[0.7,0.5],[1,0.4],[3,0.3],[10,0.25]]
];

// Middle resolution, DE2 (values on kN)
const midDE2 = [
 [0.2,0.3,0.4,0.6,1.0,1.5, 1.9,2.0,1.2,1.6,2.6,2.7, 2.3,1.6,2.0,1.7,1.6,2.2, 2.9,3.1,3.5,2.6,2.5,2.4, 2.6,2.7,2.6,2.3,1.8,1.2, 0.5,0.2,0.3,0.15,0.25,0.2, 0.3,0.2,0.35,0.25,0.3,0.2],
 [0.3,0.4,0.5,0.7,0.8,1.0, 1.3,1.5,1.5,1.3,0.9,0.6, 0.3,0.0,0.6,0.4,0.9,1.8, 2.2,2.8,2.3,1.7,1.9,1.2, 1.5,1.3,1.1,0.7,0.5,0.3, 0.2,0.1,0.0,-0.1,0.1,0.0, -0.2,-0.4,-0.3,-0.6,-0.8,-1.0],
 [0.3,0.2,0.35,0.3,0.4,0.3, 0.2,0.4,0.3,0.1,0.5,0.3, 0.0,-0.4,0.2,0.4,0.1,0.5, 0.3,-0.2,0.1,0.4,0.2,-0.3, 0.0,0.3,0.2,0.4,0.3,0.35, 0.4,0.3,0.5,0.4,0.6,0.5, 0.7,0.6,0.8,0.7,0.9,1.1],
 [0.0,0.1,0.0,0.2,0.1,0.2, 0.3,0.2,0.5,0.9,1.6,2.2, 2.4,1.8,1.2,1.6,1.9,1.5, 1.3,0.6,1.0,1.5,1.8,1.3, 1.9,1.6,1.2,1.3,1.4,1.0, 0.7,0.6,0.5,0.4,0.3,0.2, 0.1,-0.2,-0.4,-0.3,-0.5,-0.6],
 [-0.1,0.0,-0.2,-0.1,0.0,-0.2, -0.3,-0.2,-0.4,-0.3,-0.5,-0.4, -0.2,-0.6,-0.8,-1.0,-1.3,-1.6, -1.7,-1.4,-1.6,-2.4,-2.0,-1.4, -1.5,-1.0,-0.6,-0.4,-0.2,0.0, -0.1,0.0,-0.1,0.1,0.0,-0.1, 0.0,0.1,0.0,-0.1,0.0,0.1],
 [-0.1,-0.2,-0.1,-0.2,-0.3,-0.1, 0.0,-0.1,0.1,0.3,0.2,0.4, 0.6,0.4,0.2,-0.2,0.1,0.3, 0.0,-0.4,-0.2,-0.6,-0.8,-1.0, -0.6,-0.5,-0.7,-0.5,-0.3,-0.1, 0.0,-0.2,-0.3,-0.4,-0.5,-0.6, -0.5,-0.7,-0.8,-0.7,-0.6,-0.5],
 [0.0,-0.1,0.1,-0.1,0.0,-0.2, -0.4,-0.5,-0.4,-0.6,-0.5,-0.3, -0.2,0.1,-0.3,-0.6,-0.8,-0.5, -0.3,-0.4,-0.5,-0.3,-0.2,-0.4, -0.5,-0.3,-0.4,-0.5,-0.45,-0.5, -0.4,-0.5,-0.45,-0.4,-0.5,-0.45, -0.4,-0.5,-0.45,-0.4,-0.45,-0.5],
 [0.1,0.2,0.1,0.3,0.2,0.4, 0.5,0.6,0.5,0.7,0.5,0.3, 0.6,0.8,0.5,0.3,0.6,0.4, 0.2,0.5,0.3,0.0,-0.3,-0.5, -0.7,-0.6,-0.4,-0.2,-0.3,-0.1, 0.0,0.2,0.3,0.4,0.5,0.6, 0.7,0.8,0.9,0.8,0.7,0.6],
 [0.0,0.2,0.4,0.6,0.9,1.0, 0.8,0.5,0.3,0.1,-0.3,-0.7, -1.0,-1.2,-0.9,-1.6,-1.0,-0.6, -0.9,-0.4,-0.6,-0.1,-0.5,-0.2, 0.0,-0.3,-0.1,-0.2,-0.3,-0.1, 0.0,0.2,0.3,0.4,0.5,0.6, 0.7,0.8,0.9,1.0,0.9,1.1],
 [0.3,0.4,0.5,0.4,0.6,0.5, 0.6,0.8,0.9,1.2,1.8,1.5, 1.0,0.7,1.1,0.8,0.5,0.7, 0.9,0.6,0.8,0.5,0.9,0.7, 0.6,0.8,0.7,0.6,0.7,0.5, 0.6,0.5,0.6,0.4,0.5,0.6, 0.5,0.4,0.6,0.5,0.4,0.5],
 [-0.2,-0.3,-0.2,-0.4,-0.3,-0.5, -0.8,-1.1,-1.0,-0.8,-0.6,-0.3, 0.0,-0.2,0.1,-0.3,-0.5,-0.4, -0.2,0.1,-0.1,-0.4,-0.2,-0.5, -0.4,-0.6,-0.5,-0.3,-0.4,-0.2, -0.3,-0.4,-0.5,-0.4,-0.6,-0.7, -0.6,-0.7,-0.5,-0.4,-0.3,-0.2],
 [-0.2,-0.1,-0.3,-0.2,-0.4,-0.3, -0.5,-0.6,-0.8,-0.9,-1.1,-0.9, -0.7,-1.0,-1.3,-1.5,-1.8,-2.0, -2.2,-1.5,-1.9,-1.2,-0.8,-1.0, -0.6,-0.8,-0.5,-0.3,-0.2,0.0, -0.1,-0.2,0.0,-0.2,-0.3,-0.5, -0.4,-0.6,-0.8,-0.9,-0.7,-0.9],
 [-0.3,-0.2,-0.4,-0.3,-0.2,-0.4, -0.3,-0.1,0.2,0.4,0.1,-0.3, -0.5,-0.2,-0.6,-0.3,0.0,-0.4, -0.6,-0.3,-0.1,-0.5,-0.7,-0.4, -0.6,-0.4,-0.5,-0.2,-0.3,-0.1, -0.2,0.0,-0.1,0.1,0.2,0.0, 0.1,0.3,0.2,0.4,0.3,0.2],
 [0.2,0.3,0.2,0.3,0.1,0.2, 0.0,0.1,-0.1,0.2,0.0,0.6, 1.2,1.9,1.4,1.0,2.0,1.6, 0.9,0.4,0.7,1.0,0.5,0.8, 0.6,0.4,0.5,0.3,0.4,0.2, 0.3,0.2,0.1,0.0,-0.1,-0.2, -0.3,-0.2,-0.4,-0.3,-0.4,-0.5],
 [0.1,0.0,0.1,0.2,0.1,0.0, 0.1,0.2,0.0,-0.2,-0.4,-0.3, -0.5,-0.7,-1.0,-1.3,-0.8,-1.1, -1.3,-1.5,-1.2,-1.6,-1.9,-1.5, -1.2,-0.8,-1.0,-0.7,-0.5,-0.3, -0.2,-0.1,0.0,-0.1,0.0,0.1, 0.0,0.1,0.2,0.1,0.0,0.1],
 [0.0,0.1,0.0,-0.1,0.0,0.1, 0.2,0.1,0.3,0.2,0.4,0.3, 0.5,0.2,0.0,0.3,0.5,0.2, 0.4,0.6,0.3,0.1,0.4,0.2, 0.3,0.1,0.2,0.0,0.1,-0.1, 0.0,0.1,0.0,0.2,0.1,0.0, 0.2,0.3,0.1,0.2,0.0,0.1],
 [0.2,0.1,0.3,0.2,0.1,0.2, 0.0,0.1,0.2,0.0,-0.2,0.1, 0.3,0.5,0.2,0.4,0.6,0.3, 0.1,0.3,0.0,-0.2,0.1,0.3, 0.2,0.0,0.1,0.2,0.1,0.2, 0.0,0.1,0.2,0.1,0.0,0.1, 0.2,0.1,0.0,0.1,0.2,0.1],
 [-0.3,-0.2,-0.3,-0.1,-0.2,-0.1, 0.0,0.2,0.4,0.3,0.1,-0.2, -0.4,-0.1,0.3,0.6,0.4,0.2, 0.5,0.8,0.6,0.3,0.5,0.7, 0.4,0.6,0.5,0.3,0.4,0.2, 0.3,0.1,0.2,0.0,0.1,-0.1, 0.0,-0.2,-0.1,-0.3,-0.2,-0.1],
 [0.3,0.2,0.4,0.3,0.5,0.4, 0.6,0.5,0.7,0.4,0.2,0.0, -0.3,-0.6,-0.4,-0.1,0.2,0.0, -0.4,-0.7,-1.0,-0.6,-0.3,-0.5, -0.2,0.0,0.2,0.1,0.3,0.2, 0.1,0.3,0.2,0.4,0.3,0.5, 0.4,0.6,0.5,0.7,0.6,0.8],
 [-0.1,0.0,-0.1,0.1,0.0,0.1, 0.2,0.4,0.3,0.1,0.2,0.5, 0.9,0.6,0.3,0.1,-0.2,0.0, 0.3,0.5,0.2,-0.1,0.0,0.2, 0.1,-0.1,0.0,-0.2,-0.1,-0.3, -0.2,-0.4,-0.3,-0.5,-0.6,-0.5, -0.4,-0.6,-0.5,-0.4,-0.3,-0.2]
];

// Middle resolution, corr (values on kN)
const midCorr = [
 [0.1,0.2,0.0,0.1,0.3,0.2, 0.4,0.3,0.6,1.0,1.6,1.2, 0.2,-1.0,-2.3,-1.5,-0.6,0.2, 0.5,-0.4,-1.6,-1.0,-0.5,-1.1, -0.6,-0.3,-0.5,-0.2,0.0,0.2, 0.3,0.4,0.3,0.5,0.4,0.6, 0.5,0.7,0.6,0.8,0.9,0.95],
 [0.2,0.1,0.3,0.2,0.1,0.3, 0.2,0.4,0.6,1.0,1.2,1.5, 1.6,1.75,1.5,1.2,0.8,0.4, 0.6,0.9,1.3,0.8,0.5,1.2, 1.0,1.6,1.1,0.7,0.6,0.4, 0.5,0.3,0.4,0.6,0.4,0.5, 0.3,0.5,0.4,0.3,0.5,0.4],
 [0.3,0.2,0.4,0.3,0.2,0.4, 0.3,0.1,0.0,-0.3,-0.6,-0.3, 0.0,0.5,1.0,1.3,1.5,1.1, 0.3,-0.3,0.2,0.8,0.4,0.0, 0.3,0.5,0.4,0.3,0.2,0.1, 0.2,0.1,0.0,-0.1,-0.2,-0.3, -0.4,-0.3,-0.5,-0.4,-0.3,-0.2],
 [-0.4,-0.5,-0.6,-0.8,-1.0,-1.2, -1.3,-1.7,-2.0,-2.4,-2.1,-1.9, -2.0,-1.2,-0.5,0.2,0.6,0.3, -0.2,0.3,0.5,0.0,-0.3,0.2, 0.0,0.3,0.2,0.1,0.2,0.0, 0.1,0.2,0.3,0.2,0.3,0.4, 0.3,0.4,0.5,0.4,0.3,0.4],
 [-0.4,-0.5,-0.6,-0.9,-1.3,-1.6, -2.1,-2.2,-2.1,-1.8,-1.2,-0.6, -0.2,0.3,-0.3,-0.8,-1.2,-0.7, 0.0,0.3,-0.2,-0.5,0.1,0.4, 0.2,-0.1,0.0,-0.2,-0.1,-0.3, -0.2,-0.1,-0.2,-0.3,-0.2,-0.4, -0.3,-0.2,-0.4,-0.5,-0.3,-0.4],
 [0.1,0.0,0.2,0.1,0.0,0.1, -0.1,-0.2,-0.1,0.0,0.2,0.4, 0.1,-0.3,-0.1,0.3,0.6,0.2, -0.4,-0.2,0.3,0.6,0.2,-0.1, 0.1,0.2,0.0,0.1,0.2,0.1, 0.2,0.3,0.2,0.3,0.2,0.4, 0.5,0.4,0.3,0.4,0.5,0.4],
 [-0.3,-0.2,-0.4,-0.3,-0.5,-0.4, -0.5,-0.6,-0.5,-0.7,-0.4,-0.2, 0.1,0.3,0.0,-0.3,-0.1,0.2, 0.4,0.1,-0.2,0.2,0.4,0.2, 0.0,0.2,0.3,0.1,0.2,0.3, 0.2,0.3,0.2,0.1,0.2,0.3, 0.2,0.3,0.2,0.3,0.2,0.25],
 [0.1,0.2,0.1,0.3,0.2,0.1, 0.2,0.3,0.1,0.0,-0.2,-0.5, -0.8,-0.4,0.2,0.5,0.3,-0.1, 0.3,0.6,0.3,0.0,0.4,0.7, 0.6,0.9,0.7,0.5,0.6,0.4, 0.3,0.2,0.1,0.0,-0.2,-0.4, -0.6,-0.5,-0.8,-0.9,-0.7,-0.6],
 [0.4,0.3,0.2,0.0,-0.3,-0.6, -0.9,-1.2,-1.3,-1.5,-1.6,-1.8, -1.3,-0.6,0.2,0.5,0.3,-0.1, 0.4,0.7,0.3,-0.2,0.1,0.5, 0.3,0.0,-0.2,-0.5,-0.8,-0.6, -0.4,-0.3,-0.2,-0.1,-0.3,-0.4, -0.5,-0.6,-0.5,-0.7,-0.6,-0.8],
 [0.2,0.3,0.2,0.1,0.3,0.2, 0.4,0.6,0.8,1.0,0.7,0.4, 0.1,0.4,0.8,1.1,0.6,-0.4, -1.3,-0.5,0.4,1.5,1.0,0.3, -0.2,-0.1,0.2,0.0,-0.3,-0.4, -0.3,-0.5,-0.6,-0.4,-0.7,-0.8, -0.6,-0.5,-0.4,-0.3,-0.2,-0.1],
 [-0.2,-0.1,0.1,0.3,0.2,0.4, 0.2,0.3,0.1,-0.2,-0.4,-0.1, 0.2,0.5,0.1,-0.4,-0.9,-0.5, 0.0,0.4,0.2,-0.6,-0.9,-0.4, 0.0,0.2,-0.1,0.0,-0.2,0.0, 0.1,0.0,0.2,0.1,0.2,0.3, 0.2,0.4,0.3,0.5,0.6,0.7],
 [-0.8,-0.9,-1.0,-0.9,-0.8,-0.9, -1.0,-0.9,-0.8,-1.0,-0.9,-0.7, -0.5,-0.2,0.1,-0.1,-0.4,0.0, 0.5,0.3,0.0,-0.3,0.2,0.6, 0.4,0.1,0.3,0.2,0.3,0.4, 0.3,0.5,0.6,0.4,0.7,0.5, 0.4,0.5,0.3,0.4,0.5,0.3],
 [0.1,0.2,0.4,0.3,0.5,0.4, 0.3,0.5,0.4,0.6,0.3,0.0, -0.3,-0.1,0.3,0.7,0.4,0.0, 0.6,1.5,1.0,0.3,-0.2,0.2, 0.5,0.2,0.0,-0.2,-0.1,0.1, 0.2,0.3,0.2,0.4,0.3,0.2, 0.3,0.4,0.3,0.2,0.3,0.25],
 [-0.3,-0.4,-0.5,-0.6,-0.7,-0.8, -0.9,-1.0,-0.8,-0.6,-0.4,-0.1, 0.2,0.0,-0.4,-0.7,-0.3,0.2, 0.5,0.2,-0.3,-0.6,-0.2,0.3, 0.5,0.2,0.0,0.2,0.1,0.3, 0.2,0.1,0.3,0.2,0.4,0.3, 0.2,0.3,0.2,0.1,0.2,0.1],
 [0.2,0.1,0.3,0.2,0.1,0.2, 0.3,0.2,0.4,0.3,0.1,-0.3, -0.7,-1.2,-0.9,-0.3,0.2,0.5, 0.3,-0.2,-0.8,-0.3,0.4,0.7, 0.3,0.0,0.2,0.1,-0.1,0.0, 0.1,0.0,-0.1,-0.2,-0.1,-0.3, -0.2,-0.4,-0.3,-0.2,-0.3,-0.5],
 [0.0,-0.1,0.0,-0.2,-0.1,-0.3, -0.2,-0.1,0.0,0.1,0.3,0.2, 0.0,0.3,0.6,0.3,-0.2,-0.5, -0.3,0.2,0.5,0.1,-0.4,-0.2, 0.1,0.3,0.1,0.0,0.1,0.2, 0.1,0.2,0.3,0.2,0.1,0.2, 0.3,0.2,0.1,0.2,0.3,0.2],
 [-0.1,0.0,-0.2,-0.3,-0.2,-0.4, -0.5,-0.4,-0.3,-0.5,-0.6,-0.4, -0.2,0.1,0.3,0.0,-0.3,0.1, 0.3,0.0,0.2,0.4,0.1,-0.1, 0.2,0.3,0.1,0.2,0.0,0.1, 0.2,0.1,0.0,0.1,0.2,0.1, 0.0,0.1,0.2,0.1,0.0,0.1],
 [0.0,0.1,0.2,0.1,0.3,0.2, 0.1,0.0,-0.2,-0.4,-0.3,0.0, 0.3,0.1,-0.5,-1.0,-0.6,-0.2, 0.1,-0.3,-0.6,-0.2,0.3,0.1, -0.1,0.1,0.3,0.2,0.1,0.0, -0.1,0.0,-0.2,-0.1,0.0,-0.2, -0.1,0.0,-0.1,-0.2,-0.1,0.0],
 [-0.2,-0.3,-0.4,-0.5,-0.7,-0.9, -1.0,-1.2,-1.1,-1.3,-1.0,-0.6, -0.2,0.2,0.0,-0.4,-0.7,-0.3, 0.1,-0.2,0.3,0.6,0.2,-0.2, 0.0,-0.2,-0.3,-0.1,-0.2,0.0, -0.1,-0.2,-0.3,-0.2,-0.4,-0.3, -0.4,-0.5,-0.4,-0.6,-0.5,-0.7],
 [0.1,0.0,0.2,0.1,0.0,0.2, 0.3,0.5,0.6,0.9,1.0,0.8, 0.5,0.2,-0.3,-0.1,0.4,0.8, 0.5,0.0,-0.6,-1.0,-0.5,0.0, 0.3,0.1,-0.1,0.1,0.0,0.2, 0.1,0.0,0.1,-0.1,0.0,-0.2, -0.1,0.0,-0.1,0.0,0.1,0.0]
];

// ---------------- DRAWING ----------------
const SERIF = "'DejaVu Serif','Liberation Serif',serif";
const SANS = "'Liberation Sans','DejaVu Sans',sans-serif";
const svg = d3.select('#c');
const root = svg.append('g').attr('font-family', SERIF).attr('fill', '#000');
const colors = d3.schemeCategory10;

function pieces(sel, arr) {
  arr.forEach(([s, it]) => sel.append('tspan').attr('font-style', it ? 'italic' : 'normal').text(s));
}
function mathText(parent, x, y, tokens, fs, anchor, rotate) {
  const g = parent.append('g');
  const inner = g.append('g');
  let cx = 0;
  for (const tk of tokens) {
    cx += (tk.pre || 0) * fs;
    let w = 0;
    if (tk.s) {
      const t = inner.append('text').attr('x', cx).attr('y', 0).attr('font-size', fs);
      pieces(t, tk.s);
      w = t.node().getComputedTextLength();
      if (tk.bar) inner.append('line').attr('x1', cx + fs * 0.12).attr('x2', cx + w + fs * 0.04)
        .attr('y1', -fs * 0.86).attr('y2', -fs * 0.86).attr('stroke', '#000').attr('stroke-width', fs * 0.055);
    }
    cx += w;
    let sw = 0;
    const both = tk.sup && tk.sub;
    if (tk.sup) {
      const t = inner.append('text').attr('x', cx + 0.03 * fs).attr('y', -0.42 * fs).attr('font-size', 0.7 * fs);
      pieces(t, tk.sup);
      sw = Math.max(sw, t.node().getComputedTextLength() + 0.03 * fs);
    }
    if (tk.sub) {
      const t = inner.append('text').attr('x', cx + 0.01 * fs).attr('y', (both ? 0.32 : 0.22) * fs).attr('font-size', 0.7 * fs);
      pieces(t, tk.sub);
      sw = Math.max(sw, t.node().getComputedTextLength() + 0.01 * fs);
    }
    cx += sw + (tk.sp || 0) * fs;
  }
  const off = anchor === 'middle' ? -cx / 2 : anchor === 'end' ? -cx : 0;
  inner.attr('transform', `translate(${off},0)`);
  g.attr('transform', `translate(${x},${y})` + (rotate ? ` rotate(${rotate})` : ''));
  return cx;
}

// header
svg.append('text').attr('x', 7).attr('y', 18).attr('font-family', SANS).attr('font-style', 'italic')
  .attr('font-size', 13.4).text(headerText);
svg.append('text').attr('x', 975).attr('y', 18).attr('text-anchor', 'end').attr('font-family', SANS)
  .attr('font-weight', 'bold').attr('font-size', 13.4).text(pageNumber);
svg.append('line').attr('x1', 7).attr('x2', 975).attr('y1', 32).attr('y2', 32).attr('stroke', '#000').attr('stroke-width', 2);

const colX = [58, 358, 658];
const rowY = [[87, 271], [348, 532]];
const panelData = [lowSim, lowDE2, lowCorr, midSim, midDE2, midCorr];
const RSUP = [['(', 0], ['r', 1], [')', 0]];
const K = [['(', 0], ['k', 1], [')', 0]];

panelData.forEach((data, i) => {
  const row = Math.floor(i / 3), col = i % 3;
  const x0 = colX[col], x1 = x0 + 300, yT = rowY[row][0], yB = rowY[row][1];
  const xs = d3.scaleLog().domain([0.01, 10]).range([x0, x1]);
  const ys = d3.scaleLinear().domain([-4, 4]).range([yB, yT]);
  const g = root.append('g');
  const cid = 'clip' + i;
  g.append('clipPath').attr('id', cid).append('rect').attr('x', x0).attr('y', yT).attr('width', 300).attr('height', yB - yT);
  // bands
  g.append('rect').attr('x', x0).attr('width', 300).attr('y', ys(2)).attr('height', ys(-2) - ys(2)).attr('fill', '#e5e5e5');
  g.append('rect').attr('x', x0).attr('width', 300).attr('y', ys(1)).attr('height', ys(-1) - ys(1)).attr('fill', '#cccccc');
  // grid
  g.append('g').selectAll('line').data(xs.ticks()).join('line')
    .attr('x1', d => xs(d)).attr('x2', d => xs(d)).attr('y1', yT).attr('y2', yB)
    .attr('stroke', '#dcdcdc').attr('stroke-width', 1.1);
  // series
  const smooth = (i % 3 === 0);
  const line = d3.line().x(d => xs(d[0])).y(d => ys(d[1]))
    .curve(smooth ? d3.curveCatmullRom.alpha(0.5) : d3.curveLinear);
  const lg = g.append('g').attr('clip-path', `url(#${cid})`);
  data.forEach((s, j) => {
    const pts = smooth ? s : s.slice(0, kN.length).map((v, q) => [kN[q], v]);
    lg.append('path').attr('d', line(pts)).attr('fill', 'none')
      .attr('stroke', colors[j % 10]).attr('stroke-width', 1).attr('stroke-linejoin', 'round');
  });
  // zero line
  g.append('line').attr('x1', x0).attr('x2', x1).attr('y1', ys(0)).attr('y2', ys(0))
    .attr('stroke', '#555').attr('stroke-width', 1.2);
  // frame
  g.append('rect').attr('x', x0).attr('y', yT).attr('width', 300).attr('height', yB - yT)
    .attr('fill', 'none').attr('stroke', '#000').attr('stroke-width', 1.3);
  // y ticks (inward, both sides)
  yTicks.forEach(t => {
    g.append('line').attr('x1', x0).attr('x2', x0 + 4).attr('y1', ys(t)).attr('y2', ys(t)).attr('stroke', '#000').attr('stroke-width', 1.2);
    g.append('line').attr('x1', x1 - 4).attr('x2', x1).attr('y1', ys(t)).attr('y2', ys(t)).attr('stroke', '#000').attr('stroke-width', 1.2);
  });
  // x ticks (inward)
  xs.ticks().forEach(t => {
    const major = Math.abs(Math.log10(t) - Math.round(Math.log10(t))) < 1e-6;
    const L = major ? 4 : 2;
    g.append('line').attr('x1', xs(t)).attr('x2', xs(t)).attr('y1', yB).attr('y2', yB - L).attr('stroke', '#000').attr('stroke-width', 0.9);
    g.append('line').attr('x1', xs(t)).attr('x2', xs(t)).attr('y1', yT).attr('y2', yT + L).attr('stroke', '#000').attr('stroke-width', 0.9);
  });
  // y tick labels on first column
  if (col === 0) {
    yTicks.forEach(t => {
      g.append('text').attr('x', x0 - 5).attr('y', ys(t) + (t === -4 ? 3.5 : 4.5)).attr('text-anchor', 'end').attr('font-size', 12.5)
        .text(t < 0 ? '\u2212' + Math.abs(t) : String(t));
    });
  }
  // x tick labels
  xTickExps.forEach((e, q) => {
    if (col > 0 && q === 0) return;
    const lab = e < 0 ? '\u2212' + Math.abs(e) : String(e);
    mathText(g, xs(Math.pow(10, e)), yB + 17, [{ s: [['10', 0]], sup: [[lab, 0]] }], 11.5, 'middle');
  });
  // title
  const X = titleSubs[col];
  mathText(g, (x0 + x1) / 2, yT - 7, [
    { s: [['R', 1]], sup: RSUP, sub: [[X, 0]] }, { s: K },
    { pre: 0.28, s: [['\u2261', 0]], sp: 0.28 },
    { s: [['P', 1]], sup: RSUP, sub: [[X, 0]] }, { s: K.concat([['/', 0]]) },
    { s: [['P', 1]], bar: 1, sub: [[X, 0]] }, { s: K }
  ], 12.5, 'middle');
  // A_R
  mathText(g, x1 - 15, yB - 15, [
    { s: [['A', 1]], sub: [['R', 1]] }, { pre: 0.2, s: [['=', 0]], sp: 0.2 }, { s: [[arValues[i] + '%', 0]] }
  ], 13, 'end');
  if (col === 0) {
    g.append('text').attr('x', x0 + 12).attr('y', yT + 24).attr('font-size', 13.5).text(rowLabels[row]);
    mathText(g, x1 - 12, yT + 24, [{ s: [['z', 1]] }, { pre: 0.2, s: [['=', 0]], sp: 0.2 }, { s: [['0', 0]] }], 13, 'end');
    // y label
    mathText(root, 29, (yT + yB) / 2 + 9, [
      { s: [['100', 0]] }, { pre: 0.25, s: [['\u00d7', 0]], sp: 0.25 }, { s: [['(', 0]] },
      { s: [['R', 1]], sup: RSUP }, { s: K, sp: 0.2 }, { s: [['\u2212', 0]], sp: 0.2 }, { s: [['1)', 0]] }
    ], 15, 'middle', -90);
  }
  if (col === 1) {
    // x label (once per row)
    mathText(root, 485, yB + 35, [
      { s: [['k', 1]], sp: 0.3 }, { s: [['[', 0], ['h', 1]], sp: 0.2 }, { s: [['Mpc', 0]], sup: [['\u22121', 0]] }, { s: [[']', 0]] }
    ], 14.5, 'middle');
  }
});
</script></body></html>
